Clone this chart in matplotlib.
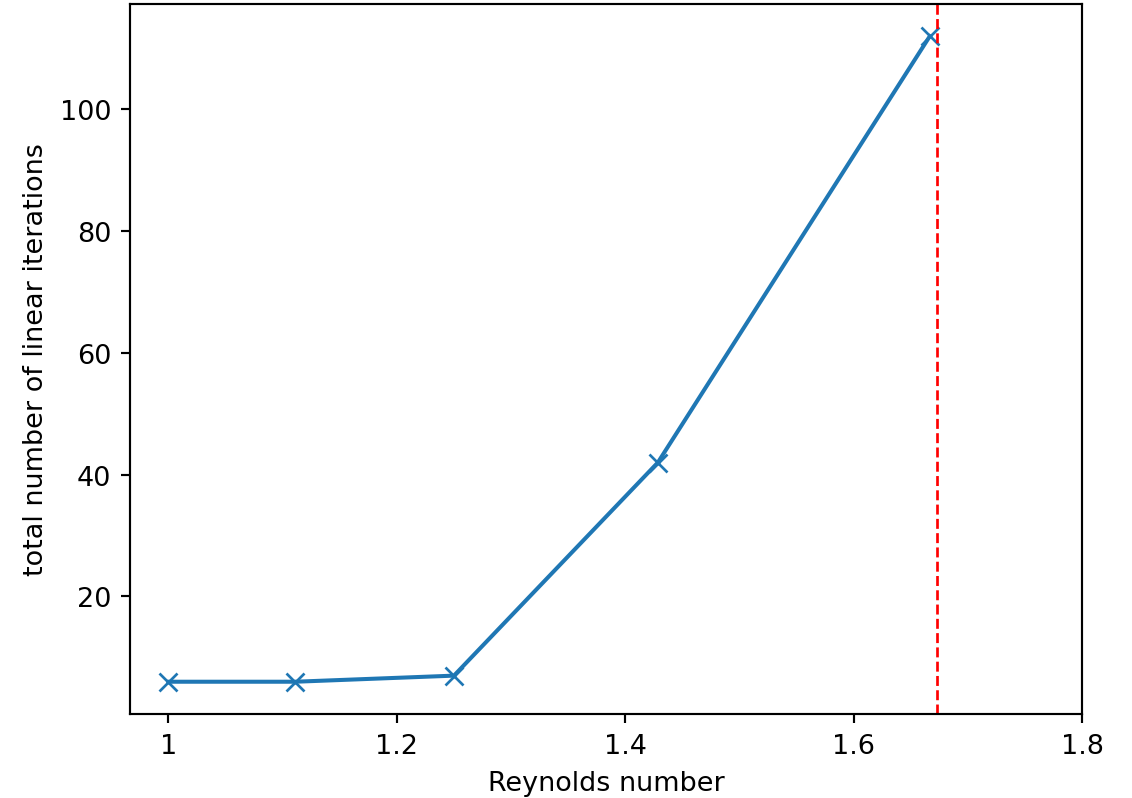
import matplotlib
matplotlib.use("Agg")
import matplotlib.pyplot as plt
from matplotlib.ticker import FuncFormatter

reynolds = [1.0, 10/9, 1.25, 10/7, 5/3]
iterations = [6, 6, 7, 42, 112]
critical_re = 1.673
xticks = [1.0, 1.2, 1.4, 1.6, 1.8]
yticks = [20, 40, 60, 80, 100]

W, H, DPI = 1132, 799, 194
fig = plt.figure(figsize=(W / DPI, H / DPI), dpi=DPI)
ax = fig.add_axes([130 / W, 1 - 715 / H, (1082 - 130) / W, (715 - 5) / H])

ax.plot(reynolds, iterations, marker="x", color="#1f77b4", lw=1.5, ms=6.5)
ax.axvline(critical_re, color="red", ls="--", lw=1)

ax.set_xlim(0.9663, 1.8)
ax.set_ylim(0.7, 117.3)
ax.set_xticks(xticks)
ax.set_yticks(yticks)
ax.xaxis.set_major_formatter(FuncFormatter(lambda v, p: f"{v:g}"))
ax.set_xlabel("Reynolds number")
ax.set_ylabel("total number of linear iterations")

fig.savefig("out.png", dpi=DPI)
